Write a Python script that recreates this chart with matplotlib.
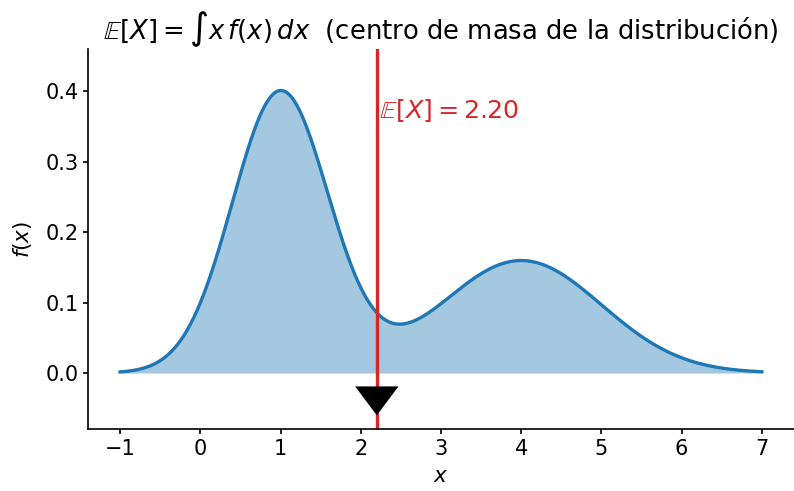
import numpy as np
import matplotlib
matplotlib.use("Agg")
import matplotlib.pyplot as plt

# Two-component Gaussian mixture: weights, means, standard deviations
weights = [0.6, 0.4]
means = [1.0, 4.0]
sigmas = [0.6, 1.0]
x_range = [-1.0, 7.0]
x_ticks = [-1, 0, 1, 2, 3, 4, 5, 6, 7]
y_ticks = [0.0, 0.1, 0.2, 0.3, 0.4]

x = np.linspace(x_range[0], x_range[1], 801)
pdf = np.zeros_like(x)
for w, m, s in zip(weights, means, sigmas):
    pdf += w * np.exp(-0.5 * ((x - m) / s) ** 2) / (s * np.sqrt(2 * np.pi))

mean_x = sum(w * m for w, m in zip(weights, means))

fig = plt.figure(figsize=(7.94, 4.91), dpi=100)
ax = fig.add_axes([0.1108, 0.1254, 0.8892, 0.7754])

ax.fill_between(x, pdf, color="tab:blue", alpha=0.4, linewidth=0)
ax.plot(x, pdf, color="tab:blue", lw=2.4)
ax.axvline(mean_x, color="tab:red", lw=2.4)

# fulcrum under the balance point
hw = 0.27
ax.fill([mean_x - hw, mean_x + hw, mean_x], [-0.019, -0.019, -0.06],
        color="black", zorder=3, lw=0)

ax.text(mean_x + 0.03, 0.372, r"$\mathbb{E}[X]=%.2f$" % mean_x,
        color="tab:red", fontsize=18.3, ha="left", va="center")

ax.set_xlim(-1.4, 7.4)
ax.set_ylim(-0.08, 0.46)
ax.set_xticks(x_ticks)
ax.set_yticks(y_ticks)
ax.tick_params(labelsize=15, width=1.2)
ax.set_xlabel(r"$x$", fontsize=15.5, labelpad=5)
ax.set_ylabel(r"$f(x)$", fontsize=15.5, labelpad=8)
ax.set_title(r"$\mathbb{E}[X]=\int x\,f(x)\,dx$  (centro de masa de la distribución)",
             fontsize=18.6, pad=6)
for side in ("top", "right"):
    ax.spines[side].set_visible(False)
for side in ("left", "bottom"):
    ax.spines[side].set_linewidth(1.2)

fig.savefig("out.png", dpi=100)
